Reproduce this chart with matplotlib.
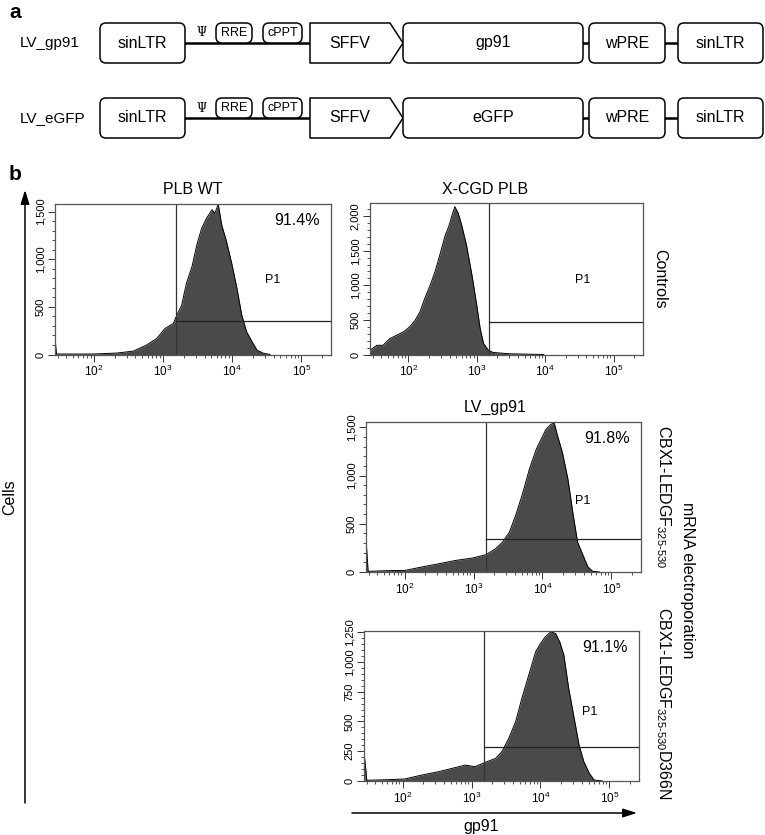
import numpy as np
import matplotlib.pyplot as plt
from matplotlib.patches import FancyBboxPatch, Polygon
from matplotlib.ticker import MultipleLocator, FuncFormatter

plt.rcParams['font.family'] = ['Liberation Sans', 'DejaVu Sans']
plt.rcParams['mathtext.fontset'] = 'custom'
plt.rcParams['mathtext.rm'] = 'Liberation Sans'
plt.rcParams['mathtext.it'] = 'Liberation Sans:italic'
plt.rcParams['mathtext.bf'] = 'Liberation Sans:bold'

# --- data -------------------------------------------------------------
construct_names = ['LV_gp91', 'LV_eGFP']
transgenes = ['gp91', 'eGFP']

# histogram outlines: log10(gp91 intensity) and cell counts
wt_log = [1.44, 1.46, 1.99, 2.33, 2.57, 2.76, 2.91, 3.03, 3.15, 3.20, 3.27, 3.34, 3.42, 3.49, 3.56,
          3.63, 3.71, 3.75, 3.80, 3.85, 3.92, 4.00, 4.07, 4.14, 4.21, 4.29, 4.36, 4.45, 4.55]
wt_cells = [180, 5, 5, 15, 35, 98, 168, 273, 326, 410, 515, 747, 922, 1150, 1325,
            1430, 1520, 1483, 1577, 1360, 1185, 940, 694, 414, 238, 133, 46, 14, 0]

cgd_log = [1.44, 1.54, 1.63, 1.73, 1.83, 1.93, 2.02, 2.10, 2.17, 2.24, 2.32, 2.39, 2.46, 2.54,
           2.59, 2.64, 2.68, 2.73, 2.78, 2.85, 2.93, 3.00, 3.05, 3.10, 3.17, 3.24, 3.49, 3.98]
cgd_cells = [62, 133, 133, 230, 279, 327, 400, 496, 617, 810, 1003, 1196, 1437, 1726,
             1847, 2016, 2137, 2041, 1871, 1582, 1148, 714, 376, 159, 62, 29, 10, 0]

cbx_log = [1.45, 1.47, 1.77, 2.01, 2.25, 2.50, 2.74, 2.98, 3.18, 3.32, 3.42, 3.52, 3.61, 3.71, 3.81,
           3.91, 3.98, 4.05, 4.12, 4.17, 4.22, 4.29, 4.37, 4.44, 4.51, 4.59, 4.66, 4.73, 4.83]
cbx_cells = [241, 7, 14, 17, 52, 86, 120, 144, 179, 241, 309, 412, 584, 808, 1065,
             1271, 1375, 1478, 1529, 1546, 1409, 1237, 962, 619, 309, 172, 52, 7, 0]

d366n_log = [1.45, 1.48, 1.79, 2.03, 2.28, 2.52, 2.76, 2.91, 3.05, 3.20, 3.35, 3.44, 3.54, 3.64, 3.73,
             3.83, 3.93, 4.00, 4.07, 4.15, 4.22, 4.28, 4.34, 4.41, 4.49, 4.56, 4.63, 4.71, 4.78, 4.90]
d366n_cells = [190, 6, 11, 17, 50, 78, 112, 134, 120, 157, 190, 246, 358, 498, 694,
               889, 1085, 1155, 1211, 1253, 1239, 1169, 1057, 777, 526, 302, 162, 64, 8, 0]

gate_x = 1530
gate_y = [350, 471, 344, 283]
p1_pos = [(3.9e4, 781), (3.55e4, 1074), (3.9e4, 739), (5.25e4, 576)]
percents = ['91.4%', None, '91.8%', '91.1%']
titles = ['PLB WT', 'X-CGD PLB', 'LV_gp91', None]

# --- figure -----------------------------------------------------------
W, H = 765, 835
fig = plt.figure(figsize=(W / 100, H / 100), dpi=100)

over = fig.add_axes([0, 0, 1, 1])
over.set_xlim(0, W)
over.set_ylim(H, 0)
over.axis('off')


def px_axes(l, t, r, b):
    return fig.add_axes([l / W, 1 - b / H, (r - l) / W, (b - t) / H])


def box(x0, x1, y0, y1, label, fs=11.5):
    over.add_patch(FancyBboxPatch((x0, y0), x1 - x0, y1 - y0,
                                  boxstyle='round,pad=0,rounding_size=6',
                                  fc='white', ec='black', lw=1.1, zorder=3))
    over.text((x0 + x1) / 2, (y0 + y1) / 2, label, ha='center', va='center',
              fontsize=fs, zorder=4)


# panel a: vector schematic
over.text(9, 13, 'a', fontsize=15, fontweight='bold', ha='left', va='center')
for name, gene, yc in zip(construct_names, transgenes, [43, 118]):
    over.text(20, yc, name, ha='left', va='center', fontsize=11)
    over.plot([185, 310], [yc, yc], color='black', lw=1.8, zorder=2)
    over.plot([583, 589], [yc, yc], color='black', lw=1.8, zorder=2)
    over.plot([665, 678], [yc, yc], color='black', lw=1.8, zorder=2)
    box(100, 185, yc - 20, yc + 20, 'sinLTR')
    over.text(202, yc - 10, 'Ψ', ha='center', va='center', fontsize=8.5,
              family='DejaVu Serif')
    box(216, 252, yc - 20, yc, 'RRE', fs=9)
    box(263, 302, yc - 20, yc, 'cPPT', fs=9)
    over.add_patch(Polygon([(310, yc - 20), (390, yc - 20), (403, yc), (390, yc + 20), (310, yc + 20)],
                           closed=True, fc='white', ec='black', lw=1.1, joinstyle='round', zorder=3))
    over.text(350, yc, 'SFFV', ha='center', va='center', fontsize=11.5, zorder=4)
    box(403, 583, yc - 20, yc + 20, gene)
    box(589, 665, yc - 20, yc + 20, 'wPRE')
    box(678, 763, yc - 20, yc + 20, 'sinLTR')

# panel b: flow histograms
over.text(9, 175, 'b', fontsize=15, fontweight='bold', ha='left', va='center')

rects = [(55, 204, 331, 354.5), (370, 203, 643, 354.5),
         (366, 421.5, 641, 572), (364, 631, 639, 781)]
logs = [wt_log, cgd_log, cbx_log, d366n_log]
cells = [wt_cells, cgd_cells, cbx_cells, d366n_cells]
ylims = [1580, 2190, 1560, 1260]
ysteps = [(500, 100), (500, 100), (500, 100), (250, 50)]

xmin, xmax = 10 ** 1.44, 10 ** 5.43
for i in range(4):
    ax = px_axes(*rects[i])
    x = 10 ** np.array(logs[i])
    ax.fill_between(x, 0, cells[i], color='#4a4a4a', lw=0)
    ax.plot(x, cells[i], color='black', lw=0.7)
    ax.set_xscale('log')
    ax.set_xlim(xmin, xmax)
    ax.set_ylim(0, ylims[i])
    ax.axvline(gate_x, color='#333333', lw=0.9)
    ax.plot([gate_x, xmax], [gate_y[i], gate_y[i]], color='#222222', lw=0.9)
    ax.text(p1_pos[i][0], p1_pos[i][1], 'P1', fontsize=9, ha='center', va='center')
    if percents[i]:
        ax.text(0.96, 0.89, percents[i], transform=ax.transAxes, ha='right',
                va='center', fontsize=11.5)
    ax.yaxis.set_major_locator(MultipleLocator(ysteps[i][0]))
    ax.yaxis.set_minor_locator(MultipleLocator(ysteps[i][1]))
    ax.yaxis.set_major_formatter(FuncFormatter(lambda v, p: f'{int(v):,}'))
    ax.tick_params(which='major', direction='out', length=5, width=0.7,
                   color='#333333', pad=2)
    ax.tick_params(axis='x', labelsize=8.5)
    ax.tick_params(axis='y', labelsize=8)
    ax.tick_params(which='minor', direction='out', length=2.5, width=0.6, color='#333333')
    plt.setp(ax.get_yticklabels(), rotation=90, va='center')
    for s in ax.spines.values():
        s.set_color('#555555')
        s.set_linewidth(0.9)

over.text(193, 189, titles[0], ha='center', va='center', fontsize=11.5)
over.text(485, 189, titles[1], ha='center', va='center', fontsize=11.5)
over.text(495, 407, titles[2], ha='center', va='center', fontsize=11.5)

over.text(660, 279, 'Controls', rotation=270, ha='center', va='center', fontsize=11.5)
over.text(663, 497, r'CBX1-LEDGF$_{\mathregular{325\text{-}530}}$', rotation=270,
          ha='center', va='center', fontsize=11.5)
over.text(663, 703, r'CBX1-LEDGF$_{\mathregular{325\text{-}530}}$D366N', rotation=270,
          ha='center', va='center', fontsize=11.5)
over.text(688, 580, 'mRNA electroporation', rotation=270, ha='center', va='center',
          fontsize=11.5)

# axis arrows
over.annotate('', xy=(25, 190), xytext=(25, 803),
              arrowprops=dict(arrowstyle='-|>,head_length=0.7,head_width=0.22',
                              color='black', lw=1.1, mutation_scale=12, shrinkA=0, shrinkB=0))
over.text(10, 497, 'Cells', rotation=90, ha='center', va='center', fontsize=11.5)
over.annotate('', xy=(637, 813), xytext=(352, 813),
              arrowprops=dict(arrowstyle='-|>,head_length=0.7,head_width=0.22',
                              color='black', lw=1.1, mutation_scale=12, shrinkA=0, shrinkB=0))
over.text(481, 827, 'gp91', ha='center', va='center', fontsize=11.5)

fig.savefig('out.png', dpi=100)
